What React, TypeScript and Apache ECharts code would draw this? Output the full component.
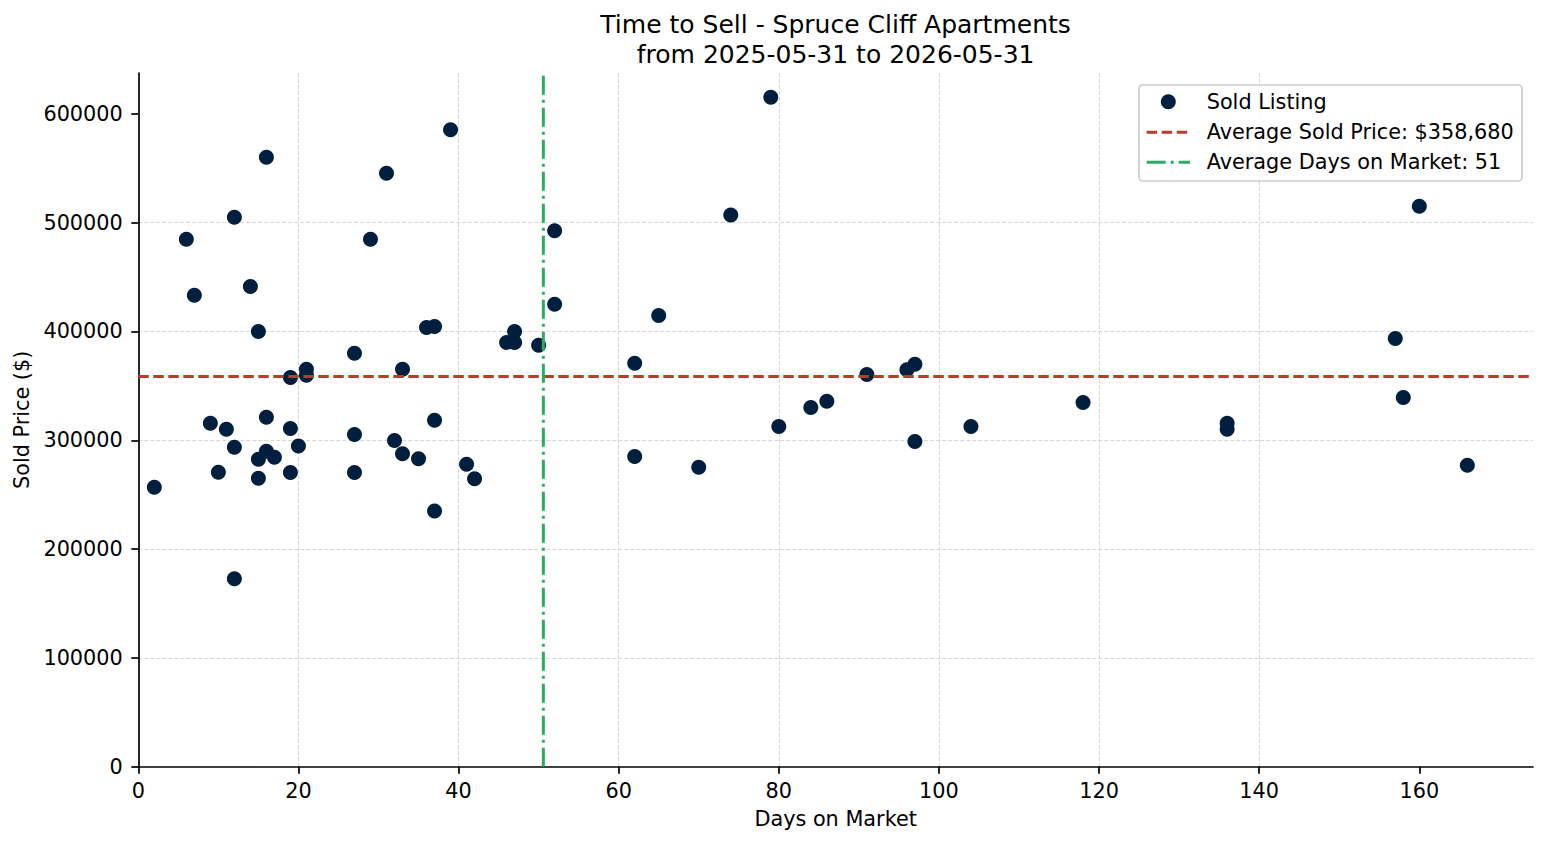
import React, { useEffect, useRef } from "react";
import * as echarts from "echarts";

// Sold listings: days on market and final sold price
const daysOnMarket = [
  2, 6, 7, 9, 10, 11, 12, 12, 12, 14, 15, 15, 15, 16, 16, 16, 17, 19, 19, 19, 20, 21, 21,
  27, 27, 27, 29, 31, 32, 33, 33, 35, 36, 37, 37, 37, 39, 41, 42, 46, 47, 47, 50, 52, 52,
  62, 62, 65, 70, 74, 79, 80, 84, 86, 91, 96, 97, 97, 104, 118, 136, 136, 157, 158, 160, 166,
];
const soldPrices = [
  256700, 484700, 433200, 315600, 270500, 310100, 505000, 293500, 172700, 441400, 400000,
  282500, 265000, 560100, 321200, 289900, 284300, 357700, 310700, 270300, 294800, 365300,
  359800, 380000, 305200, 270300, 484700, 545400, 299700, 365300, 287700, 283100, 403700,
  404600, 318400, 234900, 585300, 277900, 264700, 389900, 400000, 389900, 387400, 492600,
  424900, 370800, 285000, 414700, 275100, 507000, 615300, 312600, 330100, 335900, 360400,
  364700, 369900, 298800, 312600, 334700, 315600, 310100, 393600, 339300, 515000, 277000,
];
const avgSoldPrice = 358680;

const xTicks = [0, 20, 40, 60, 80, 100, 120, 140, 160];
const yTicks = [0, 100000, 200000, 300000, 400000, 500000, 600000];
const titleLines = ["Time to Sell - Spruce Cliff Apartments", "from 2025-05-31 to 2026-05-31"];
const legendLabels = ["Sold Listing", "Average Sold Price: $", "Average Days on Market: "];

const xMax = 174.2;
const yMax = 637500;

const FONT = "DejaVu Sans";
const NAVY = "#001f3f";
const RED = "#c0392b";
const GREEN = "#27ae60";
const RED_DASH = [10.5, 4.5];
const GREEN_DASH = [19, 5, 3, 5];

export default function App() {
  const ref = useRef<HTMLDivElement>(null);

  useEffect(() => {
    if (!ref.current) return;
    const chart = echarts.init(ref.current, null, { renderer: "svg" });

    const avgDays = daysOnMarket.reduce((a, b) => a + b, 0) / daysOnMarket.length;
    const points = daysOnMarket.map((d, i) => [d, soldPrices[i]]);

    const axisText = { color: "#000", fontFamily: FONT, fontSize: 20.8 };
    const gridLine = { show: true, lineStyle: { color: "#d6d6d6", width: 1, type: [4, 2] } };

    // legend box in the upper-right corner of the plot
    const lgX = 1139;
    const lgY = 85;
    const rows = [101.7, 132.3, 162.3];
    const legendTexts = [
      legendLabels[0],
      legendLabels[1] + avgSoldPrice.toLocaleString("en-US"),
      legendLabels[2] + Math.round(avgDays),
    ];

    chart.setOption({
      animation: false,
      textStyle: { fontFamily: FONT },
      grid: { left: 138.3, right: 14, top: 73, bottom: 78.3 },
      xAxis: {
        type: "value",
        min: 0,
        max: xMax,
        interval: 20,
        name: "Days on Market",
        nameLocation: "middle",
        nameGap: 42,
        nameTextStyle: axisText,
        axisLine: { show: true, lineStyle: { color: "#000", width: 1.7 } },
        axisTick: { show: true, length: 7, lineStyle: { color: "#000", width: 1.7 }, customValues: xTicks },
        axisLabel: { ...axisText, margin: 14, customValues: xTicks, formatter: (v: number) => String(v) },
        splitLine: { ...gridLine, showMinLine: false, showMaxLine: false },
      },
      yAxis: {
        type: "value",
        min: 0,
        max: yMax,
        interval: 100000,
        name: "Sold Price ($)",
        nameLocation: "middle",
        nameGap: 106,
        nameTextStyle: axisText,
        axisLine: { show: true, lineStyle: { color: "#000", width: 1.7 } },
        axisTick: { show: true, length: 7, lineStyle: { color: "#000", width: 1.7 }, customValues: yTicks },
        axisLabel: { ...axisText, margin: 15.5, customValues: yTicks, formatter: (v: number) => String(v) },
        splitLine: { ...gridLine, showMinLine: false, showMaxLine: false },
      },
      series: [
        {
          type: "scatter",
          name: legendTexts[0],
          data: points,
          symbolSize: 15,
          itemStyle: { color: NAVY, opacity: 1 },
          z: 2,
          silent: true,
        },
        {
          type: "line",
          name: legendTexts[1],
          data: [[0, avgSoldPrice], [xMax, avgSoldPrice]],
          symbol: "none",
          lineStyle: { color: RED, width: 3, type: RED_DASH },
          z: 3,
          silent: true,
        },
        {
          type: "line",
          name: legendTexts[2],
          data: [[avgDays, 0], [avgDays, yMax]],
          symbol: "none",
          lineStyle: { color: GREEN, width: 3, type: GREEN_DASH },
          z: 3,
          silent: true,
        },
      ],
      graphic: [
        {
          type: "text",
          x: 835.6,
          y: 24.3,
          style: { text: titleLines[0], fontFamily: FONT, fontSize: 25, fill: "#000", align: "center", verticalAlign: "middle" },
          z: 10,
        },
        {
          type: "text",
          x: 835.6,
          y: 54.3,
          style: { text: titleLines[1], fontFamily: FONT, fontSize: 25, fill: "#000", align: "center", verticalAlign: "middle" },
          z: 10,
        },
        {
          type: "rect",
          shape: { x: lgX, y: lgY, width: 383, height: 96, r: 4 },
          style: { fill: "rgba(255,255,255,0.8)", stroke: "#cccccc", lineWidth: 1.7 },
          z: 10,
        },
        {
          type: "circle",
          shape: { cx: 1168.3, cy: rows[0], r: 7.5 },
          style: { fill: NAVY },
          z: 11,
        },
        {
          type: "line",
          shape: { x1: 1146.7, y1: rows[1], x2: 1190, y2: rows[1] },
          style: { stroke: RED, lineWidth: 3, lineDash: RED_DASH },
          z: 11,
        },
        {
          type: "line",
          shape: { x1: 1146.7, y1: rows[2], x2: 1190, y2: rows[2] },
          style: { stroke: GREEN, lineWidth: 3, lineDash: GREEN_DASH },
          z: 11,
        },
        ...legendTexts.map((t, i) => ({
          type: "text",
          x: 1206.7,
          y: rows[i],
          style: { text: t, fontFamily: FONT, fontSize: 20.8, fill: "#000", align: "left", verticalAlign: "middle" },
          z: 11,
        })),
      ],
    });

    return () => chart.dispose();
  }, []);

  return (
    <div
      ref={ref}
      style={{ position: "absolute", left: 0, top: 0, width: 1547, height: 845, background: "#fff" }}
    />
  );
}
